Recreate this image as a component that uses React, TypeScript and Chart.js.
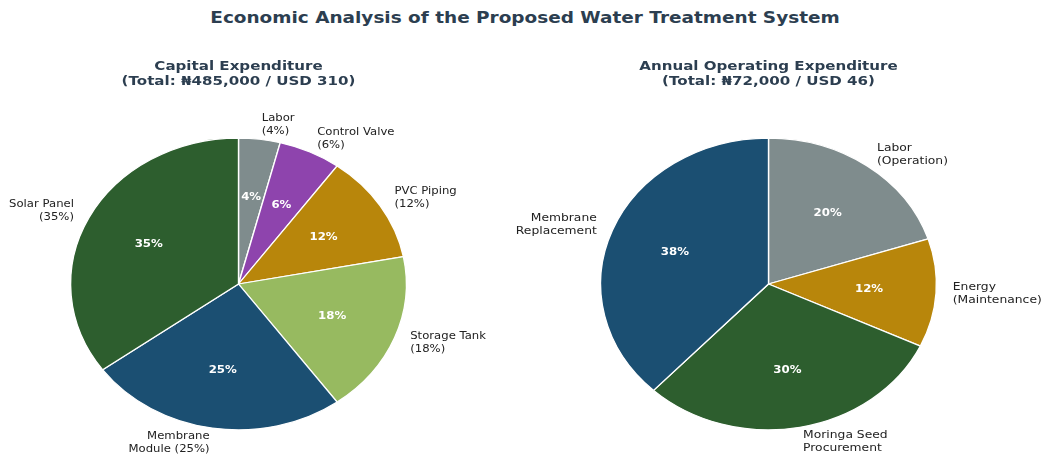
import React, { useEffect, useRef } from "react";
import { Chart, registerables } from "chart.js";

Chart.register(...registerables);

const mainTitle = "Economic Analysis of the Proposed Water Treatment System";

const capexTitle = ["Capital Expenditure", "(Total: ₦485,000 / USD 310)"];
const capexLabels = [
  ["Labor", "(4%)"],
  ["Control Valve", "(6%)"],
  ["PVC Piping", "(12%)"],
  ["Storage Tank", "(18%)"],
  ["Membrane", "Module (25%)"],
  ["Solar Panel", "(35%)"],
];
const capexValues = [4, 6, 12, 18, 25, 35];
const capexColors = ["#7f8c8d", "#8e44ad", "#b8860b", "#97ba60", "#1b4f72", "#2d5e2e"];

const opexTitle = ["Annual Operating Expenditure", "(Total: ₦72,000 / USD 46)"];
const opexLabels = [
  ["Labor", "(Operation)"],
  ["Energy", "(Maintenance)"],
  ["Moringa Seed", "Procurement"],
  ["Membrane", "Replacement"],
];
const opexValues = [20, 12, 30, 38];
const opexColors = ["#7f8c8d", "#b8860b", "#2d5e2e", "#1b4f72"];

const FONT = "'DejaVu Sans', sans-serif";
const X_STRETCH = 168 / 146;

function stretchText(ctx: any, text: string, x: number, y: number, sx: number) {
  ctx.save();
  ctx.translate(x, y);
  ctx.scale(sx, 1);
  ctx.fillText(text, 0, 0);
  ctx.restore();
}

function makePlugin(title: string[], labels: string[][], labelScale: number) {
  return {
    id: "ellipseLabels",
    beforeDatasetsDraw(chart: any) {
      const arc = chart.getDatasetMeta(0).data[0];
      const ctx = chart.ctx;
      ctx.save();
      ctx.translate(arc.x, arc.y);
      ctx.scale(X_STRETCH, 1);
      ctx.translate(-arc.x, -arc.y);
    },
    afterDatasetsDraw(chart: any) {
      chart.ctx.restore();
    },
    afterDraw(chart: any) {
      const ctx = chart.ctx;
      const meta = chart.getDatasetMeta(0);
      const vals = chart.data.datasets[0].data as number[];
      const total = vals.reduce((a, b) => a + b, 0);
      const first = meta.data[0];
      const cx = first.x;
      const cy = first.y;
      ctx.save();
      // subplot title
      ctx.fillStyle = "#2c3e50";
      ctx.font = `bold 13px ${FONT}`;
      ctx.textAlign = "center";
      ctx.textBaseline = "middle";
      title.forEach((t, i) => stretchText(ctx, t, cx, 67 + i * 15, 1.16));

      meta.data.forEach((el: any, i: number) => {
        const a = (el.startAngle + el.endAngle) / 2;
        const r = el.outerRadius;
        const c = Math.cos(a);
        const s = Math.sin(a);
        // percentage
        ctx.fillStyle = "#ffffff";
        ctx.font = `bold 11px ${FONT}`;
        ctx.textAlign = "center";
        ctx.textBaseline = "middle";
        const pct = Math.round((vals[i] / total) * 100) + "%";
        stretchText(ctx, pct, cx + X_STRETCH * r * 0.6 * c, cy + r * 0.6 * s, 1.07);
        // outer label
        const lx = cx + X_STRETCH * r * 1.1 * c;
        const ly = cy + r * 1.1 * s;
        ctx.fillStyle = "#222222";
        ctx.font = `11px ${FONT}`;
        ctx.textAlign = c > 0 ? "left" : "right";
        const lines = labels[i];
        const lh = 13;
        lines.forEach((ln, j) => {
          stretchText(ctx, ln, lx, ly + (j - (lines.length - 1) / 2) * lh, labelScale);
        });
      });
      ctx.restore();
    },
  };
}

function PieCanvas(props: {
  values: number[];
  colors: string[];
  labels: string[][];
  title: string[];
  width: number;
  padLeft: number;
  padRight: number;
  labelScale: number;
}) {
  const ref = useRef<HTMLCanvasElement>(null);
  useEffect(() => {
    if (!ref.current) return;
    const chart = new Chart(ref.current, {
      type: "pie",
      data: {
        labels: props.labels.map((l) => l.join(" ")),
        datasets: [
          {
            data: props.values,
            backgroundColor: props.colors,
            borderColor: "#ffffff",
            borderWidth: 1.2,
          },
        ],
      },
      options: {
        responsive: false,
        animation: false,
        events: [],
        layout: {
          padding: { top: 137, bottom: 24, left: props.padLeft, right: props.padRight },
        },
        plugins: {
          legend: { display: false },
          tooltip: { enabled: false },
          title: { display: false },
        },
      },
      plugins: [makePlugin(props.title, props.labels, props.labelScale)],
    });
    return () => chart.destroy();
  }, []);
  return <canvas ref={ref} width={props.width} height={455} style={{ display: "block" }} />;
}

export default function App() {
  return (
    <div
      style={{
        position: "absolute",
        left: 0,
        top: 0,
        width: 1042,
        height: 455,
        background: "#ffffff",
        overflow: "hidden",
      }}
    >
      <div
        style={{
          position: "absolute",
          left: 0,
          top: 7,
          width: 1050,
          textAlign: "center",
          fontFamily: FONT,
          fontWeight: "bold",
          fontSize: 15.5,
          color: "#2c3e50",
          lineHeight: "22px",
          transform: "scaleX(1.19)",
          transformOrigin: "525px 50%",
        }}
      >
        {mainTitle}
      </div>
      <div style={{ position: "absolute", left: 0, top: 0 }}>
        <PieCanvas
          values={capexValues}
          colors={capexColors}
          labels={capexLabels}
          title={capexTitle}
          width={521}
          padLeft={92}
          padRight={136}
          labelScale={1.06}
        />
      </div>
      <div style={{ position: "absolute", left: 480, top: 0 }}>
        <PieCanvas
          values={opexValues}
          colors={opexColors}
          labels={opexLabels}
          title={opexTitle}
          width={562}
          padLeft={142}
          padRight={127}
          labelScale={1.12}
        />
      </div>
    </div>
  );
}
